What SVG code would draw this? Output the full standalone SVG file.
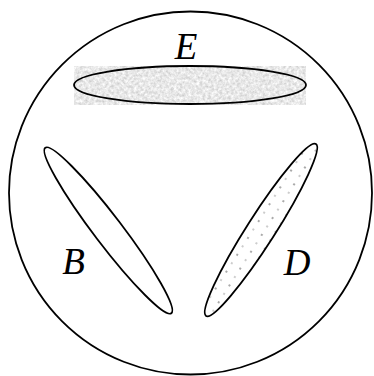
<svg xmlns="http://www.w3.org/2000/svg" width="374" height="376" viewBox="0 0 374 376">
  <style>
    .outline { fill: none; stroke: #000; stroke-width: 1.8; }
    .lbl { font-family: "Liberation Serif", "Times New Roman", serif; font-style: italic; font-size: 37px; fill: #000; text-anchor: middle; }
  </style>
  <defs>
    <filter id="grain" x="0" y="0" width="1" height="1" color-interpolation-filters="sRGB">
      <feTurbulence type="fractalNoise" baseFrequency="0.35" numOctaves="3" seed="7" result="t"/>
      <feColorMatrix in="t" type="matrix" values="0.3 0 0 0 0.76  0.3 0 0 0 0.76  0.3 0 0 0 0.76  0 0 0 0 1"/>
    </filter>
    <pattern id="dots" x="2.3" y="-1.7" width="20" height="20" patternUnits="userSpaceOnUse">
      <rect x="4" y="4" width="2" height="2" fill="#aaaaaa"/>
      <rect x="14" y="14" width="2" height="2" fill="#aaaaaa"/>
      <rect x="14" y="4" width="2" height="2" fill="#cccccc"/>
      <rect x="4" y="14" width="2" height="2" fill="#cccccc"/>
    </pattern>
  </defs>

  <g id="universe">
    <circle class="outline" cx="190.5" cy="193" r="181.5"/>
  </g>

  <g id="node-E">
    <rect x="74" y="66" width="232" height="39" fill="#e0e0e0" filter="url(#grain)"/>
    <ellipse class="outline" cx="190" cy="85" rx="116" ry="19"/>
    <text class="lbl" x="186" y="59">E</text>
  </g>

  <g id="node-B">
    <ellipse class="outline" cx="108.3" cy="230.5" rx="104" ry="14" transform="rotate(52.7 108.3 230.5)"/>
    <text class="lbl" x="73.5" y="274">B</text>
  </g>

  <g id="node-D">
    <ellipse cx="261" cy="230" rx="102" ry="14" fill="url(#dots)" stroke="#000" stroke-width="1.8" transform="rotate(-57.4 261 230)"/>
    <text class="lbl" x="297" y="275">D</text>
  </g>

  <g id="connectors"/>
</svg>
